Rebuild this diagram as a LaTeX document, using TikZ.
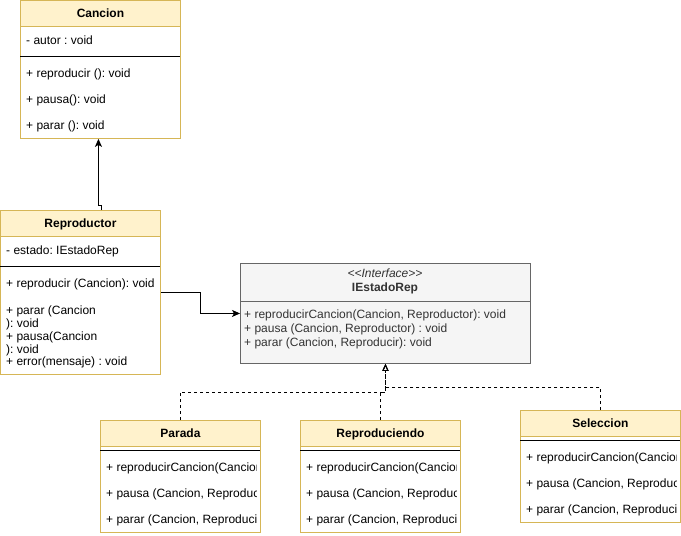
\documentclass[tikz,border=0pt]{standalone}
\usepackage{fontspec}
\setmainfont{Liberation Sans}
\usetikzlibrary{arrows.meta}
\frenchspacing

\definecolor{headfill}{HTML}{FFF2CC}
\definecolor{headline}{HTML}{D6B656}
\definecolor{ifill}{HTML}{F5F5F5}
\definecolor{iline}{HTML}{666666}
\definecolor{itext}{HTML}{333333}

% a member line cut off at the right-hand edge of its class box
\newcommand{\cutline}[1]{\makebox[150pt][l]{#1}}

\tikzset{
  classbox/.style={draw=headline, fill=white, line width=0.9pt, anchor=north west, inner sep=0pt, minimum width=160pt},
  headbox/.style={draw=headline, fill=headfill, line width=0.9pt, anchor=north west, inner sep=0pt,
    minimum width=160pt, minimum height=26pt, text height=10pt, text depth=2pt,
    font=\fontsize{12}{14}\selectfont\bfseries},
  ifacebox/.style={draw=iline, fill=ifill, line width=0.9pt, anchor=north west, inner sep=0pt},
  item/.style={anchor=west, inner sep=0pt, text height=10pt, text depth=2pt, font=\fontsize{12}{14}\selectfont},
  sepline/.style={line width=0.9pt, black},
  assoc/.style={line width=0.9pt, -{Stealth[length=8pt,width=7pt,inset=2pt]}},
  realize/.style={line width=0.9pt, dash pattern=on 3pt off 3pt, -{Triangle[open,length=7pt,width=6pt]}},
}

\begin{document}
\begin{tikzpicture}[x=1pt,y=-1pt]
\useasboundingbox (0,0) rectangle (681,536);

% ---------- Cancion ----------
\node[classbox, minimum height=138pt] (cancion) at (20,0) {};
\node[headbox] (cancionH) at (20,0) {Cancion};
\draw[sepline] (20,56) -- (180,56);
\node[item] (c1) at (26,40) {- autor : void};
\node[item] (c2) at (26,73) {+ reproducir (): void};
\node[item] (c3) at (26,99) {+ pausa(): void};
\node[item] (c4) at (26,125) {+ parar (): void};

% ---------- Reproductor ----------
\node[classbox, minimum height=164pt] (repr) at (0,210) {};
\node[headbox] (reprH) at (0,210) {Reproductor};
\draw[sepline] (0,266) -- (160,266);
\node[item] (r1) at (6,250) {- estado: IEstadoRep};
\node[item] (r2) at (6,283) {+ reproducir (Cancion): void};
\node[item] (r3) at (6,310) {+ parar (Cancion};
\begin{scope}
  \clip (0,318.5) rectangle (160,332);
  \node[item] (r3b) at (6,323) {): void};
\end{scope}
\node[item] (r4) at (6,336) {+ pausa(Cancion};
\begin{scope}
  \clip (0,344.5) rectangle (160,356);
  \node[item] (r4b) at (6,349) {): void};
\end{scope}
\node[item] (r5) at (6,361) {+ error(mensaje) : void};

% ---------- IEstadoRep ----------
\node[ifacebox, minimum width=290pt, minimum height=100pt] (iface) at (240,263) {};
\draw[iline, line width=0.9pt] (240,301) -- (530,301);
\node[item, anchor=center, text=itext] (iS) at (385,273) {\textit{<{}<Interface>{}>}};
\node[item, anchor=center, text=itext, font=\fontsize{12}{14}\selectfont\bfseries] (iN) at (385,287) {IEstadoRep};
\node[item, text=itext] (i1) at (244,314) {+ reproducirCancion(Cancion, Reproductor): void};
\node[item, text=itext] (i2) at (244,328) {+ pausa (Cancion, Reproductor) : void};
\node[item, text=itext] (i3) at (244,342) {+ parar (Cancion, Reproducir): void};

% ---------- Parada ----------
\node[classbox, minimum height=112pt] (parada) at (100,420) {};
\node[headbox] (paradaH) at (100,420) {Parada};
\draw[sepline] (100,450) -- (260,450);
\begin{scope}
  \clip (100,450) rectangle (256,532);
  \node[item] (p1) at (106,467) {\cutline{+ reproducirCancion(Cancion, Reproductor): void}};
  \node[item] (p2) at (106,493) {\cutline{+ pausa (Cancion, Reproductor) : void}};
  \node[item] (p3) at (106,519) {\cutline{+ parar (Cancion, Reproducir): void}};
\end{scope}

% ---------- Reproduciendo ----------
\node[classbox, minimum height=112pt] (repro) at (300,420) {};
\node[headbox] (reproH) at (300,420) {Reproduciendo};
\draw[sepline] (300,450) -- (460,450);
\begin{scope}
  \clip (300,450) rectangle (456,532);
  \node[item] (q1) at (306,467) {\cutline{+ reproducirCancion(Cancion, Reproductor): void}};
  \node[item] (q2) at (306,493) {\cutline{+ pausa (Cancion, Reproductor) : void}};
  \node[item] (q3) at (306,519) {\cutline{+ parar (Cancion, Reproducir): void}};
\end{scope}

% ---------- Seleccion ----------
\node[classbox, minimum height=112pt] (sel) at (520,410) {};
\node[headbox] (selH) at (520,410) {Seleccion};
\draw[sepline] (520,440) -- (680,440);
\begin{scope}
  \clip (520,440) rectangle (676,522);
  \node[item] (s1) at (526,457) {\cutline{+ reproducirCancion(Cancion, Reproductor): void}};
  \node[item] (s2) at (526,483) {\cutline{+ pausa (Cancion, Reproductor) : void}};
  \node[item] (s3) at (526,509) {\cutline{+ parar (Cancion, Reproducir): void}};
\end{scope}

% ---------- Connectors ----------
\draw[assoc] ([xshift=20.5pt]reprH.north) -- ++(0,-5) -| ([xshift=-2pt]cancion.south);
\draw[assoc] (repr.east) -- ++(40,0) |- (iface.west);
\draw[realize] (paradaH.north) -- ++(0,-28) -| (iface.south);
\draw[realize] (reproH.north) -- ++(0,-28) -| (iface.south);
\draw[realize] (selH.north) -- ++(0,-23) -| (iface.south);
\end{tikzpicture}
\end{document}
